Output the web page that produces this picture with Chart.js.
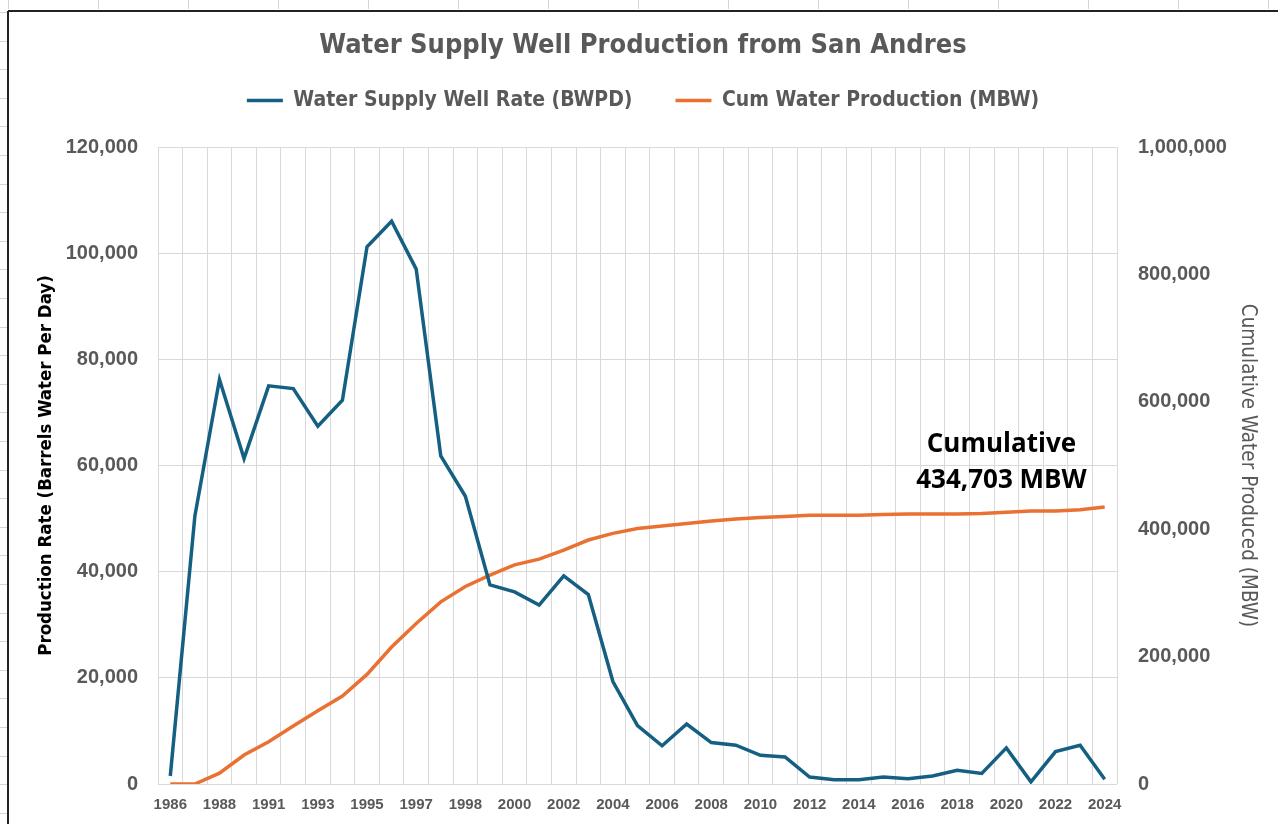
<!DOCTYPE html>
<html>
<head>
<meta charset="utf-8">
<script src="https://cdn.jsdelivr.net/npm/chart.js@4.4.1/dist/chart.umd.min.js"></script>
<style>
  html, body { margin: 0; padding: 0; background: #fff; }
  #wrap { position: relative; width: 1278px; height: 824px; }
</style>
</head>
<body>
<div id="wrap"><canvas id="chart" width="1278" height="824"></canvas></div>
<script>
// values, one per year (the sheet skips 1990 and repeats 1997)
const years = ['1986','1987','1988','1989','1991','1992','1993','1994','1995','1996',
  '1997','1997','1998','1999','2000','2001','2002','2003','2004','2005',
  '2006','2007','2008','2009','2010','2011','2012','2013','2014','2015',
  '2016','2017','2018','2019','2020','2021','2022','2023','2024'];

const rateBwpd = [1500, 50500, 76200, 61300, 75000, 74500, 67400, 72300, 101200, 106000,
  97000, 61800, 54200, 37500, 36200, 33700, 39200, 35700, 19300, 11000,
  7200, 11300, 7800, 7300, 5400, 5100, 1300, 800, 800, 1300,
  1000, 1500, 2600, 2000, 6800, 400, 6100, 7300, 900];

const cumMbw = [0, 0, 17000, 45500, 66400, 91000, 115000, 138000, 172000, 215000,
  252000, 286000, 310000, 328000, 344000, 353000, 367000, 383000, 393500, 401000,
  405000, 409000, 413000, 416000, 418500, 420000, 422000, 422000, 422000, 423000,
  424000, 424000, 424000, 424500, 426500, 428500, 428500, 430600, 434703];

const rateAxis = { min: 0, max: 120000, step: 20000 };
const cumAxis = { min: 0, max: 1000000, step: 200000 };

// text box placed on the chart (category index, value on the cum axis)
const noteAt = { index: 33.8, value: 504000 };
const noteLines = ['Cumulative', cumMbw[cumMbw.length - 1].toLocaleString('en-US') + ' MBW'];

const GRAY = '#595959';
const GRID = '#d9d9d9';
const NARROW = "'Liberation Sans Narrow', 'DejaVu Sans Condensed', 'Arial Narrow', sans-serif";
const SANS = "'Liberation Sans', Arial, sans-serif";
const fmt = v => Number(v).toLocaleString('en-US');

// spreadsheet cells around the chart object
const sheetFrame = {
  id: 'sheetFrame',
  beforeDraw(chart) {
    const { ctx, width, height } = chart;
    ctx.save();
    ctx.fillStyle = '#fff';
    ctx.fillRect(0, 0, width, height);
    ctx.strokeStyle = '#d4d4d4';
    ctx.lineWidth = 1;
    ctx.beginPath();
    for (let x = 8; x < width; x += 90) { ctx.moveTo(x + 0.5, 0); ctx.lineTo(x + 0.5, 9); }
    for (let y = 12; y < height; y += 28.6) { ctx.moveTo(0, Math.round(y) + 0.5); ctx.lineTo(7, Math.round(y) + 0.5); }
    ctx.stroke();
    ctx.strokeStyle = '#222';
    ctx.lineWidth = 2;
    ctx.beginPath();
    ctx.moveTo(8, 11); ctx.lineTo(width, 11);
    ctx.moveTo(8, 11); ctx.lineTo(8, height);
    ctx.stroke();
    ctx.restore();
  }
};

// extra room between the legend row and the plot
const legendGap = {
  id: 'legendGap',
  beforeInit(chart) {
    const fit = chart.legend.fit;
    chart.legend.fit = function () {
      fit.call(this);
      this.height += 26;
    };
  }
};

const cumNote = {
  id: 'cumNote',
  afterDatasetsDraw(chart) {
    const { ctx, scales } = chart;
    const x = scales.x.getPixelForValue(noteAt.index);
    const y = scales.y2.getPixelForValue(noteAt.value);
    ctx.save();
    ctx.font = "bold 26px 'Open Sans', sans-serif";
    ctx.fillStyle = '#000';
    ctx.textAlign = 'center';
    ctx.textBaseline = 'middle';
    noteLines.forEach((t, i) => ctx.fillText(t, x, y + (i - (noteLines.length - 1) / 2) * 36));
    ctx.restore();
  }
};

new Chart(document.getElementById('chart'), {
  type: 'line',
  data: {
    labels: years,
    datasets: [
      { label: 'Water Supply Well Rate (BWPD)', data: rateBwpd, yAxisID: 'y',
        borderColor: '#156082', backgroundColor: '#156082', borderWidth: 3.5,
        pointRadius: 0, tension: 0 },
      { label: 'Cum Water Production (MBW)', data: cumMbw, yAxisID: 'y2',
        borderColor: '#E97132', backgroundColor: '#E97132', borderWidth: 3.5,
        pointRadius: 0, tension: 0 }
    ]
  },
  options: {
    responsive: false,
    animation: false,
    layout: { padding: { left: 8, top: 0, right: 0, bottom: 0 } },
    plugins: {
      tooltip: { enabled: false },
      title: {
        display: true,
        text: 'Water Supply Well Production from San Andres',
        color: GRAY,
        font: { family: NARROW, weight: 'bold', size: 27, lineHeight: '2px' },
        padding: { top: 45, bottom: 0 }
      },
      legend: {
        position: 'top',
        labels: {
          usePointStyle: true,
          pointStyle: 'line',
          pointStyleWidth: 36,
          color: GRAY,
          font: { family: NARROW, weight: 'bold', size: 21 },
          padding: 43
        }
      }
    },
    scales: {
      x: {
        offset: true,
        grid: { offset: true, color: GRID, drawTicks: false },
        border: { display: false },
        ticks: {
          autoSkip: false, maxRotation: 0, minRotation: 0, padding: 12,
          color: GRAY, font: { family: SANS, weight: 'bold', size: 15 },
          callback: (v, i) => (i % 2 === 0 ? years[i] : '')
        },
        afterFit: s => { s.height = 40; }
      },
      y: {
        position: 'left',
        min: rateAxis.min, max: rateAxis.max,
        ticks: { stepSize: rateAxis.step, padding: 20, color: GRAY,
          font: { family: SANS, weight: 'bold', size: 20 }, callback: fmt },
        grid: { color: GRID, drawTicks: false },
        border: { display: false },
        title: { display: true, text: 'Production Rate (Barrels Water Per Day)', color: '#000',
          font: { family: NARROW, weight: 'bold', size: 18.5 }, padding: { top: 27 } },
        afterFit: s => { s.width = 150; }
      },
      y2: {
        position: 'right',
        min: cumAxis.min, max: cumAxis.max,
        ticks: { stepSize: cumAxis.step, padding: 21, color: GRAY,
          font: { family: SANS, weight: 'bold', size: 20 }, callback: fmt },
        grid: { drawOnChartArea: false, drawTicks: false },
        border: { display: false },
        title: { display: true, text: 'Cumulative Water Produced (MBW)', color: GRAY,
          font: { family: NARROW, size: 20.5 }, padding: { top: 18 } },
        afterFit: s => { s.width = 161; }
      }
    }
  },
  plugins: [sheetFrame, legendGap, cumNote]
});
</script>
</body>
</html>
